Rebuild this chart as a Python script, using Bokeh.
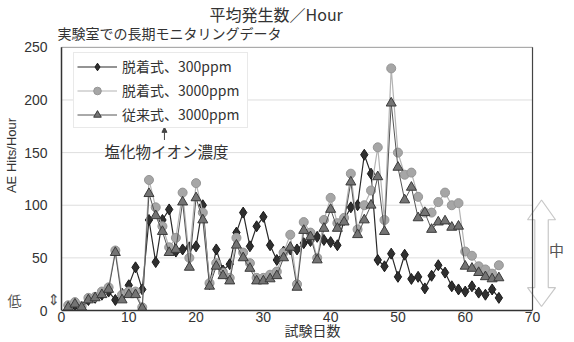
from bokeh.plotting import figure
from bokeh.models import (Range1d, Legend, LegendItem, Label, Arrow, NormalHead,
                          PolyAnnotation, FixedTicker, LinearAxis)
from bokeh.embed import file_html
from bokeh.resources import INLINE

# ---- data ----
days = list(range(1, 66))
desorb_300 = [3, 5, 0, 10, 12, 15, 18, 10, 16, 24,
              41, 20, 86, 46, 86, 96, 56, 58, 60, 61,
              100, 25, 58, 38, 44, 74, 93, 61, 80, 89,
              62, 48, 56, 58, 58, 64, 66, 70, 67, 65,
              62, 86, 98, 100, 148, 130, 48, 42, 54, 32,
              53, 30, 32, 21, 33, 43, 36, 23, 20, 18,
              23, 17, 15, 20, 12]
desorb_3000 = [5, 8, 4, 12, 13, 18, 22, 57, 15, 18,
               18, 3, 124, 98, 80, 60, 69, 112, 50, 121,
               93, 26, 45, 36, 31, 69, 55, 45, 31, 31,
               34, 37, 55, 72, 25, 84, 74, 50, 86, 107,
               83, 88, 130, 77, 100, 114, 155, 86, 230, 150,
               129, 131, 108, 93, 93, 103, 112, 100, 102, 56,
               52, 42, 39, 35, 43]
conv_3000 = [3, 6, 3, 10, 12, 15, 20, 55, 10, 15,
             15, 2, 111, 90, 75, 55, 58, 103, 41, 107,
             86, 23, 42, 33, 28, 62, 50, 40, 28, 28,
             30, 33, 50, 60, 22, 76, 70, 48, 78, 96,
             78, 84, 122, 72, 86, 100, 127, 75, 197, 136,
             105, 117, 88, 93, 77, 84, 85, 79, 80, 42,
             40, 36, 32, 30, 31]
series_labels = ["脱着式、300ppm", "脱着式、3000ppm", "従来式、3000ppm"]
x_ticks = [0, 10, 20, 30, 40, 50, 60, 70]
y_ticks = [0, 50, 100, 150, 200, 250]

JP = "Noto Sans CJK JP"
LAT = "Liberation Sans"
TXT = "#333333"
X0, X1 = x_ticks[0], x_ticks[-1]
Y0, Y1 = y_ticks[0], y_ticks[-1]

# frame spans px 50..574 x 0..311; the axis box 0..70 x 0..250 sits at px 61..532 x 47..311
p = figure(width=574, height=342, output_backend="svg", toolbar_location=None,
           title=None,
           x_range=Range1d(-1.635, 76.24), y_range=Range1d(Y0, 294.5),
           min_border_left=50, min_border_right=0, min_border_top=0,
           min_border_bottom=31, background_fill_color="white",
           border_fill_color="white")

p.xgrid.grid_line_color = None
p.ygrid.grid_line_color = None
p.outline_line_color = None

# axes
p.xaxis.ticker = FixedTicker(ticks=x_ticks)
p.xaxis.bounds = (X0, X1)
p.yaxis.ticker = FixedTicker(ticks=y_ticks)
for ax in (p.xaxis[0], p.yaxis[0]):
    ax.major_tick_out = 0
    ax.major_tick_in = 0
    ax.minor_tick_out = 0
    ax.minor_tick_in = 0
    ax.major_label_text_font = LAT
    ax.major_label_text_font_size = "14px"
    ax.major_label_text_color = TXT
    ax.axis_label_text_font_style = "normal"
    ax.axis_label_text_color = TXT
p.xaxis.axis_line_color = "#333333"
p.xaxis.axis_line_width = 1.5
p.xaxis.major_label_standoff = 1
p.xaxis.axis_label = "試験日数"
p.xaxis.axis_label_text_font = JP
p.xaxis.axis_label_text_font_size = "14px"
p.xaxis.axis_label_standoff = -5
p.yaxis.axis_line_color = None
p.yaxis.major_label_standoff = 3

# outer left axis: "低" marker and the y axis title
low_axis = LinearAxis(ticker=FixedTicker(ticks=[10]), major_label_overrides={10: "低"},
                      axis_line_color=None, major_tick_out=0, major_tick_in=0,
                      minor_tick_out=0, minor_tick_in=0,
                      major_label_text_font=JP, major_label_text_font_size="14px",
                      major_label_text_color="#555555", major_label_standoff=0,
                      axis_label="AE Hits/Hour", axis_label_text_font=LAT,
                      axis_label_text_font_size="13px", axis_label_text_font_style="normal",
                      axis_label_text_color=TXT, axis_label_standoff=-14)
p.add_layout(low_axis, "left")

# gridlines and plot box
p.segment(x0=X0, x1=X1, y0=y_ticks[1:-1], y1=y_ticks[1:-1],
          line_color="#dedede", line_width=1)
p.segment(x0=X0, x1=X1, y0=Y1, y1=Y1, line_color="#9a9a9a", line_width=1)
p.segment(x0=X0, x1=X0, y0=Y0, y1=Y1, line_color="#333333", line_width=1.5)
p.segment(x0=X1, x1=X1, y0=Y0, y1=Y1, line_color="#444444", line_width=1.2)

# ---- series ----
l1 = p.line(days, desorb_300, line_color="#2a2a2a", line_width=1.2)
m1 = p.scatter(days, desorb_300, marker="diamond", size=11,
               fill_color="#2f2f2f", line_color="#1a1a1a")
l2 = p.line(days, desorb_3000, line_color="#b4b4b4", line_width=1.2)
m2 = p.scatter(days, desorb_3000, marker="circle", size=9,
               fill_color="#a6a6a6", line_color="#959595")
l3 = p.line(days, conv_3000, line_color="#555555", line_width=1.0)
m3 = p.scatter(days, conv_3000, marker="triangle", size=10,
               fill_color="#747474", line_color="#3a3a3a")

legend = Legend(items=[LegendItem(label=series_labels[0], renderers=[l1, m1]),
                       LegendItem(label=series_labels[1], renderers=[l2, m2]),
                       LegendItem(label=series_labels[2], renderers=[l3, m3])],
                location=(23, 182), label_text_font=JP, label_text_font_size="14px",
                label_text_color=TXT, border_line_color="#d4d4d4",
                background_fill_color="white", background_fill_alpha=1,
                glyph_width=40, glyph_height=19, label_height=19, label_width=122,
                spacing=4, padding=3, margin=0, label_standoff=5)
p.add_layout(legend)

# ---- titles and annotations ----
p.add_layout(Label(x=22.0, y=281.3, text="平均発生数／Hour", text_font=JP,
                   text_font_size="16px", text_color=TXT, text_align="left",
                   text_baseline="middle"))
p.add_layout(Label(x=-0.59, y=263.3, text="実験室での長期モニタリングデータ", text_font=JP,
                   text_font_size="14px", text_color=TXT, text_align="left",
                   text_baseline="middle"))
p.add_layout(Label(x=15.6, y=152, text="塩化物イオン濃度", text_font=JP,
                   text_font_size="15.5px", text_color=TXT, text_align="center",
                   text_baseline="middle"))
p.add_layout(Arrow(end=NormalHead(size=5, fill_color="#444444", line_color="#444444"),
                   x_start=15.3, y_start=162, x_end=15.3, y_end=174,
                   line_color="#444444", line_width=1))
p.add_layout(Label(x=-1.19, y=10, text="⇕", text_font="DejaVu Sans",
                   text_font_size="15px", text_color="#555555", text_align="center",
                   text_baseline="middle"))

cx, hw, sw = 71.34, 2.08, 1.0
top, hb, sb, bot = 105, 86.2, 21.8, 3.8
p.add_layout(PolyAnnotation(
    xs=[cx, cx + hw, cx + sw, cx + sw, cx + hw, cx, cx - hw, cx - sw, cx - sw, cx - hw],
    ys=[top, hb, hb, sb, sb, bot, sb, sb, hb, hb],
    fill_alpha=0, line_color="#444444", line_width=1.2))
p.add_layout(Label(x=73.57, y=57.8, text="中", text_font=JP, text_font_size="15px",
                   text_color="#555555", text_align="center", text_baseline="middle"))

open("out.html", "w").write(file_html(p, INLINE))
